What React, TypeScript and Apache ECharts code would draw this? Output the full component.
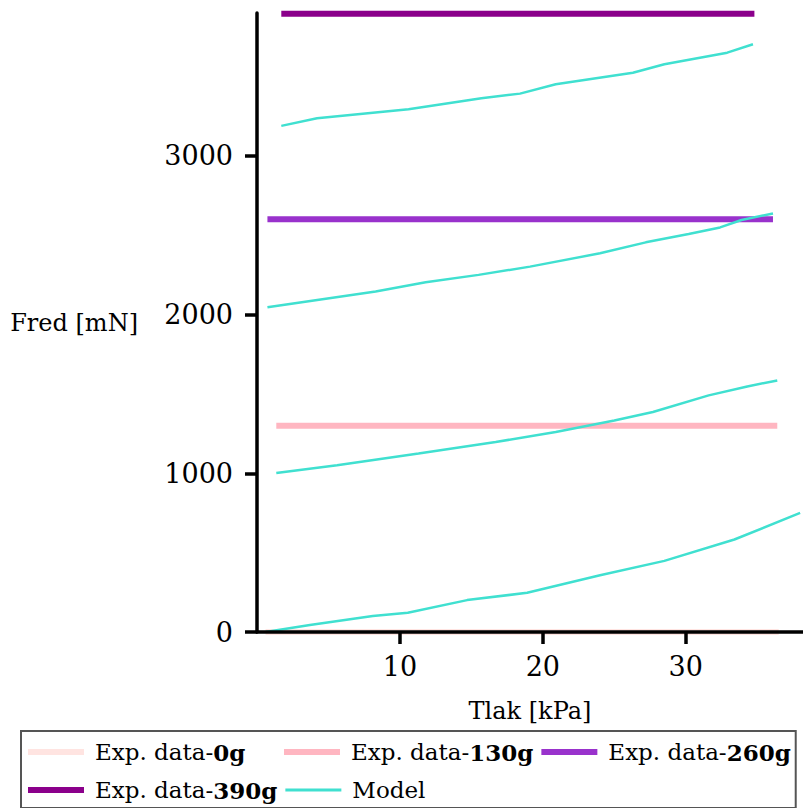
import React, { useEffect, useRef } from "react";
import * as echarts from "echarts";

const FONT = "DejaVu Serif";

const LEGEND_NAMES = ["Exp. data-0g", "Exp. data-130g", "Exp. data-260g", "Exp. data-390g", "Model"];

// Experimental data (horizontal lines): [xStart, xEnd], value
const EXP_0_X = [0.6, 36.5];
const EXP_0_Y = [0, 0];
const EXP_130_X = [1.35, 36.4];
const EXP_130_Y = [1300, 1300];
const EXP_260_X = [0.73, 36.1];
const EXP_260_Y = [2600, 2600];
const EXP_390_X = [1.7, 34.8];
const EXP_390_Y = [3895, 3895];

// Model curves
const M0_X = [0.6, 3.7, 8.1, 10.55, 14.7, 18.9, 24.0, 28.5, 33.4, 38.0];
const M0_Y = [0, 44, 101, 121, 201, 247, 358, 448, 583, 750];
const M130_X = [1.35, 5.6, 11.3, 16.7, 20.9, 25.0, 27.7, 31.6, 34.3, 36.4];
const M130_Y = [1002, 1050, 1124, 1197, 1260, 1333, 1386, 1491, 1547, 1585];
const M260_X = [0.73, 8.3, 11.8, 15.5, 19.1, 24.0, 27.2, 30.2, 32.4, 33.9, 36.1];
const M260_Y = [2046, 2145, 2203, 2250, 2302, 2386, 2455, 2507, 2549, 2596, 2637];
const M390_X = [1.7, 4.2, 10.6, 15.7, 18.4, 20.9, 26.3, 28.5, 32.9, 34.7];
const M390_Y = [3189, 3237, 3294, 3363, 3392, 3451, 3524, 3577, 3650, 3703];

const X_TICKS = [10, 20, 30];
const Y_TICKS = [0, 1000, 2000, 3000];

const COLORS = {
  e0: "#FFE4E1",
  e130: "#FFB6C1",
  e260: "#9932CC",
  e390: "#8B008B",
  model: "#40E0D0",
};

const zip = (xs: number[], ys: number[]) => xs.map((x, i) => [x, ys[i]]);

export default function App() {
  const ref = useRef<HTMLDivElement>(null);
  useEffect(() => {
    if (!ref.current) return;
    const chart = echarts.init(ref.current, null, { renderer: "svg" });
    const expSeries = (name: string, xs: number[], ys: number[], color: string) => ({
      type: "line",
      name,
      data: zip(xs, ys),
      showSymbol: false,
      symbol: "none",
      lineStyle: { color, width: 6 },
      itemStyle: { color },
      z: 2,
    });
    const modelSeries = (xs: number[], ys: number[]) => ({
      type: "line",
      name: "Model",
      data: zip(xs, ys),
      showSymbol: false,
      symbol: "none",
      lineStyle: { color: COLORS.model, width: 2.5 },
      itemStyle: { color: COLORS.model },
      z: 3,
    });
    const legendData = LEGEND_NAMES.map((n) =>
      n === "Model"
        ? { name: n, icon: "path://M0,0M0,6M0,1.6L56,1.6L56,4.4L0,4.4Z" }
        : { name: n }
    );
    chart.setOption({
      animation: false,
      backgroundColor: "#ffffff",
      grid: { left: 257, right: 0, top: 13, bottom: 176, containLabel: false },
      xAxis: {
        type: "value",
        min: 0,
        max: 38.2,
        z: 5,
        name: "Tlak [kPa]",
        nameLocation: "middle",
        nameGap: 67,
        nameTextStyle: { fontFamily: FONT, fontSize: 24, color: "#000" },
        axisLine: { show: true, onZero: false, lineStyle: { color: "#000", width: 3.5 } },
        axisTick: { show: true, length: 12, lineStyle: { color: "#000", width: 3.5 }, customValues: X_TICKS },
        axisLabel: {
          fontFamily: FONT,
          fontSize: 27,
          color: "#000",
          margin: 21,
          customValues: X_TICKS,
          formatter: (v: number) => String(v),
        },
        splitLine: { show: false },
      },
      yAxis: {
        type: "value",
        min: 0,
        max: 3900,
        z: 5,
        name: "Fred [mN]",
        nameLocation: "middle",
        nameRotate: 0,
        nameGap: 119,
        nameTextStyle: { fontFamily: FONT, fontSize: 24, color: "#000" },
        axisLine: { show: true, onZero: false, lineStyle: { color: "#000", width: 3.5 } },
        axisTick: { show: true, length: 12, lineStyle: { color: "#000", width: 3.5 }, customValues: Y_TICKS },
        axisLabel: {
          fontFamily: FONT,
          fontSize: 27,
          color: "#000",
          margin: 24,
          customValues: Y_TICKS,
          formatter: (v: number) => String(v),
        },
        splitLine: { show: false },
      },
      legend: {
        data: legendData,
        left: 21,
        top: 731,
        width: 782,
        orient: "horizontal",
        padding: [6, 5, 3, 7],
        borderColor: "#555",
        borderWidth: 2,
        icon: "rect",
        itemWidth: 56,
        itemHeight: 6,
        itemGap: 8,
        formatter: (name: string) => {
          if (name.startsWith("Exp. data-")) {
            return `{n|Exp. data-}{b|${name.slice(10)}}`;
          }
          return `{n|${name}}`;
        },
        textStyle: {
          fontFamily: FONT,
          fontSize: 23,
          color: "#000",
          width: 181,
          lineHeight: 30,
          padding: [0, 0, 0, 6],
          rich: {
            n: { fontFamily: FONT, fontSize: 23, color: "#000", lineHeight: 30 },
            b: { fontFamily: FONT, fontSize: 23, color: "#000", fontWeight: "bold", lineHeight: 30 },
          },
        },
      },
      series: [
        expSeries("Exp. data-0g", EXP_0_X, EXP_0_Y, COLORS.e0),
        expSeries("Exp. data-130g", EXP_130_X, EXP_130_Y, COLORS.e130),
        expSeries("Exp. data-260g", EXP_260_X, EXP_260_Y, COLORS.e260),
        expSeries("Exp. data-390g", EXP_390_X, EXP_390_Y, COLORS.e390),
        modelSeries(M0_X, M0_Y),
        modelSeries(M130_X, M130_Y),
        modelSeries(M260_X, M260_Y),
        modelSeries(M390_X, M390_Y),
      ],
    });
    return () => chart.dispose();
  }, []);
  return (
    <div
      ref={ref}
      style={{ position: "fixed", left: 0, top: 0, width: 803, height: 808, background: "#fff" }}
    />
  );
}
